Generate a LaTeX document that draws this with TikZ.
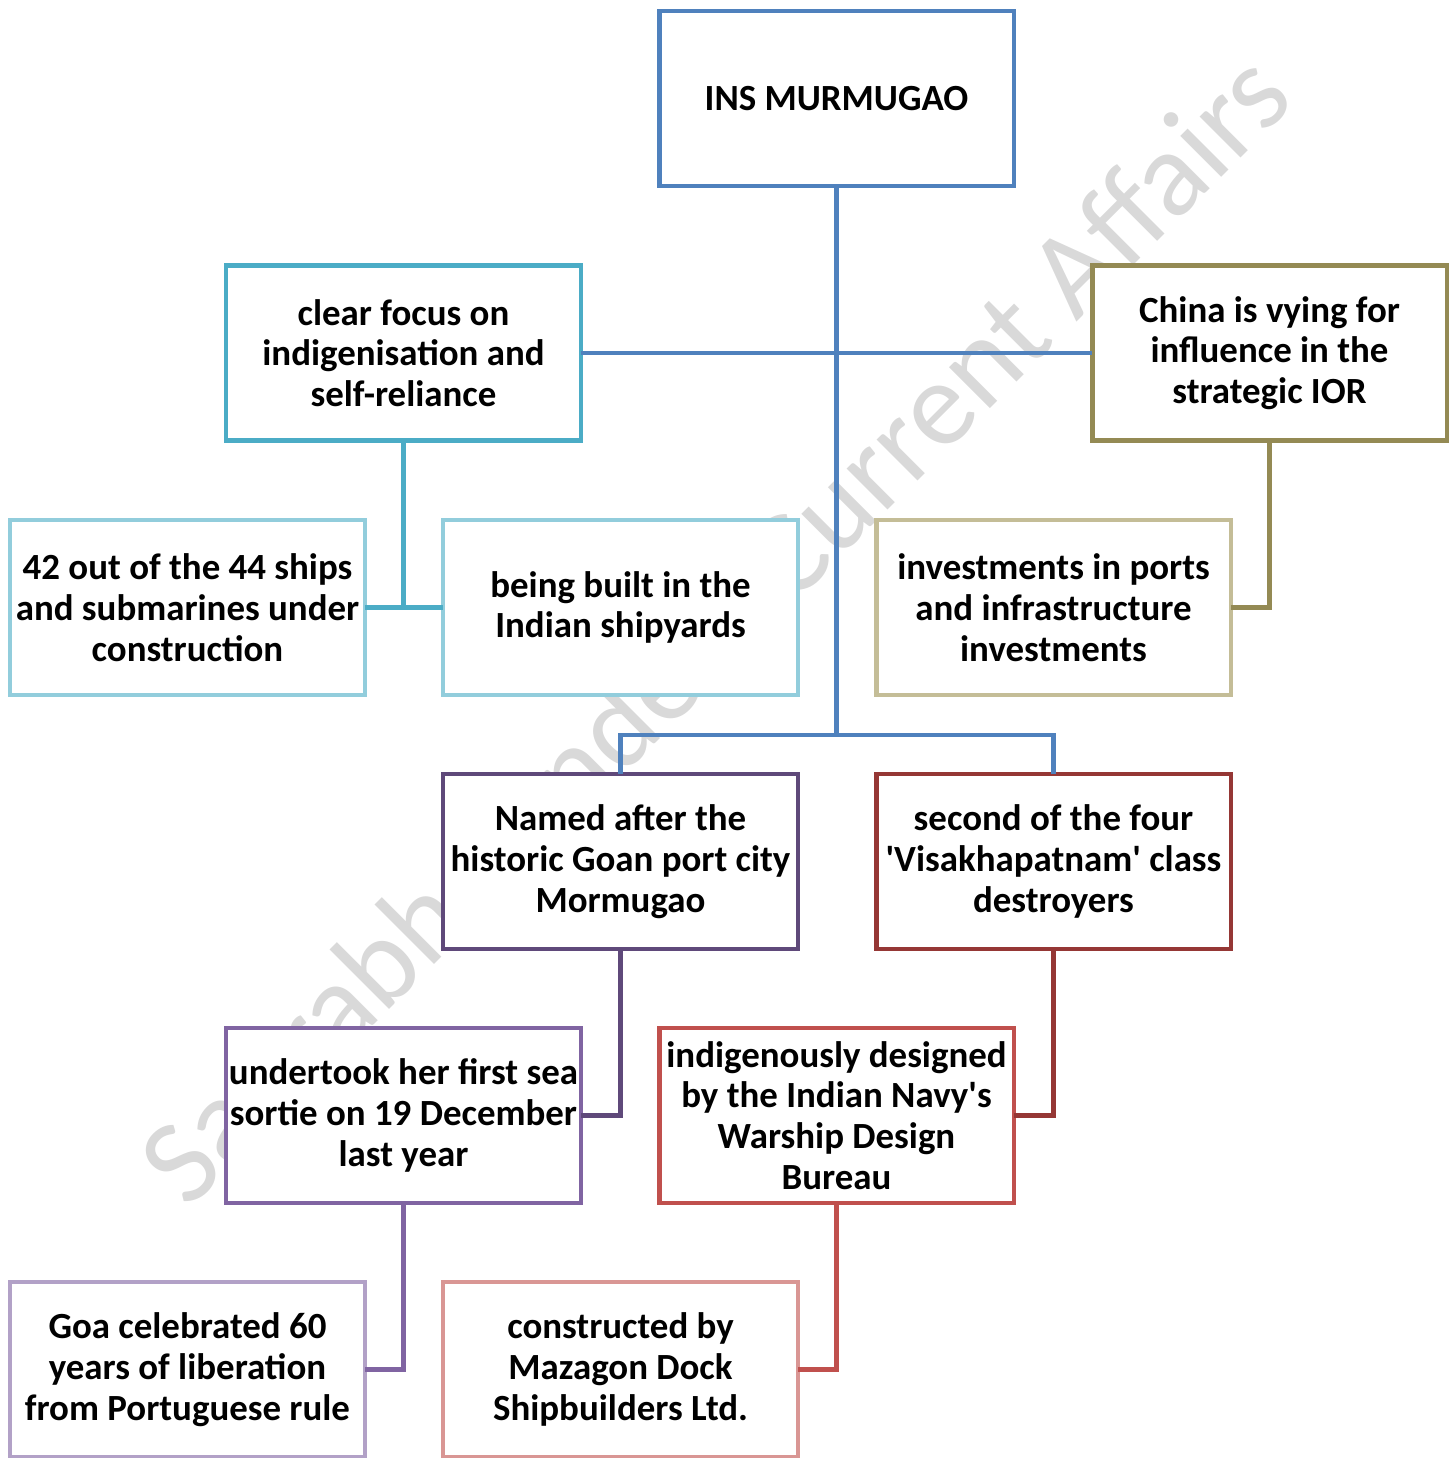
\documentclass[tikz,border=0pt]{standalone}
\usepackage{fontspec}
\setmainfont{Carlito}
\definecolor{cBlue}{HTML}{4F81BD}
\definecolor{cAqua}{HTML}{4BACC6}
\definecolor{cAquaL}{HTML}{92CDDC}
\definecolor{cOlive}{HTML}{948A54}
\definecolor{cOliveL}{HTML}{C4BD97}
\definecolor{cPurD}{HTML}{5F497A}
\definecolor{cPur}{HTML}{8064A2}
\definecolor{cPurL}{HTML}{B2A1C7}
\definecolor{cRedD}{HTML}{953735}
\definecolor{cRed}{HTML}{C0504D}
\definecolor{cRedL}{HTML}{D99694}
\definecolor{cWater}{HTML}{D9D9D9}
\begin{document}
\begin{tikzpicture}[x=0.02cm,y=-0.02cm,
  box/.style={draw=#1, fill=white, line width=2.8pt, rectangle, outer sep=0pt, inner sep=0pt,
    minimum width=7.1cm, minimum height=3.5cm, align=center,
    font=\fontsize{21}{23.2}\selectfont\bfseries},
  conn/.style={draw=#1, line width=2.3pt},
  wmark/.style={text=cWater, font=\fontsize{69}{80}\selectfont, rotate=45, inner sep=0pt}]
\useasboundingbox (0,0) rectangle (1455,1458);
\begin{scope}
\clip (0,0) rectangle (1455,1458);
\node[wmark] (wm) at (720,633) {Saurabh Pandey\hspace{0.3em} Current Affairs};

\node[box=cBlue] (root) at (836.5,98.5) {INS MURMUGAO};
\node[box=cAqua] (focus) at (403.5,353) {clear focus on\\indigenisation and\\self-reliance};
\node[box=cOlive] (china) at (1269.5,353) {China is vying for\\influence in the\\strategic IOR};
\node[box=cAquaL] (ships) at (187.5,607.5) {42 out of the 44 ships\\and submarines under\\construction};
\node[box=cAquaL] (built) at (620.5,607.5) {being built in the\\Indian shipyards};
\node[box=cOliveL] (invest) at (1053.5,607.5) {investments in ports\\and infrastructure\\investments};
\node[box=cPurD] (named) at (620.5,861.5) {Named after the\\historic Goan port city\\Mormugao};
\node[box=cRedD] (second) at (1053.5,861.5) {second of the four\\\textquotesingle Visakhapatnam\textquotesingle\ class\\destroyers};
\node[box=cPur] (sortie) at (403.5,1115.5) {undertook her first sea\\sortie on 19 December\\last year};
\node[box=cRed] (design) at (836.5,1115.5) {indigenously designed\\by the Indian Navy\textquotesingle s\\Warship Design\\Bureau};
\node[box=cPurL] (goa) at (187.5,1369.5) {Goa celebrated 60\\years of liberation\\from Portuguese rule};
\node[box=cRedL] (mazagon) at (620.5,1369.5) {constructed by\\Mazagon Dock\\Shipbuilders Ltd.};

\coordinate (j) at (836.5,735);
\draw[conn=cBlue] (root.south) -- (j);
\draw[conn=cBlue] (named.north) |- (j) -| (second.north);
\draw[conn=cBlue] (focus.east) -- (china.west);
\draw[conn=cAqua] (focus.south) -- (focus.south |- ships.east);
\draw[conn=cAqua] (ships.east) -- (built.west);
\draw[conn=cOlive] (china.south) |- (invest.east);
\draw[conn=cPurD] (named.south) |- (sortie.east);
\draw[conn=cRedD] (second.south) |- (design.east);
\draw[conn=cPur] (sortie.south) |- (goa.east);
\draw[conn=cRed] (design.south) |- (mazagon.east);
\end{scope}
\end{tikzpicture}
\end{document}
